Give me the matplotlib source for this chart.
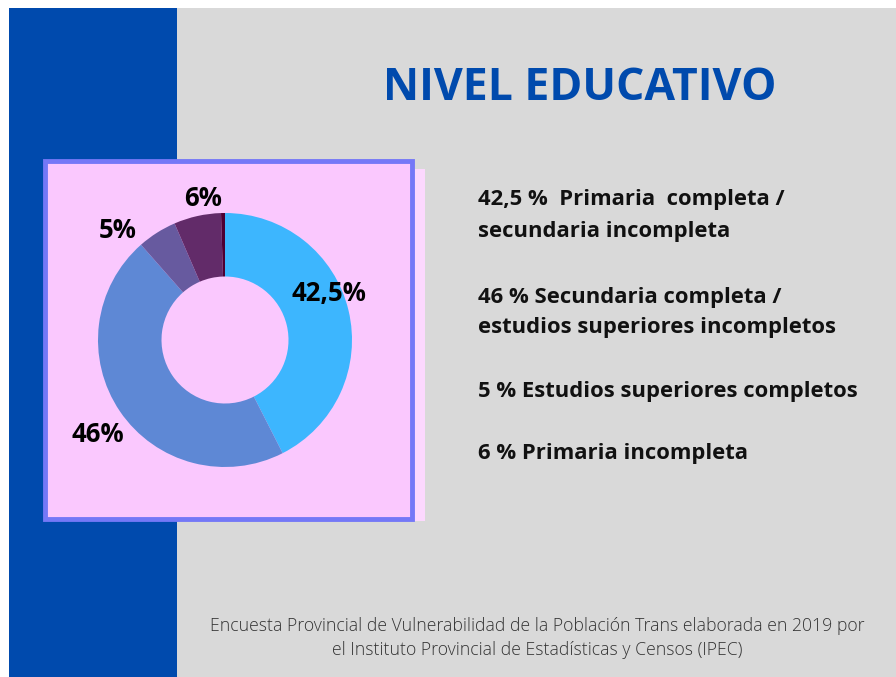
import matplotlib
matplotlib.use("Agg")
import matplotlib.pyplot as plt
from matplotlib.patches import Rectangle

categories = ["Primaria completa / secundaria incompleta",
              "Secundaria completa / estudios superiores incompletos",
              "Estudios superiores completos",
              "Primaria incompleta",
              "Otros"]
values = [42.5, 46, 5, 6, 0.5]
pct_labels = ["42,5%", "46%", "5%", "6%", ""]
colors = ["#3DB6FE", "#5E88D5", "#675A9F", "#622B69", "#4D0033"]

legend_lines = [
    "42,5 %  Primaria  completa /",
    "secundaria incompleta",
    "46 % Secundaria completa /",
    "estudios superiores incompletos",
    "5 % Estudios superiores completos",
    "6 % Primaria incompleta",
]
title = "NIVEL EDUCATIVO"
footer = ("Encuesta Provincial de Vulnerabilidad de la Población Trans elaborada en 2019 por\n"
          "el Instituto Provincial de Estadísticas y Censos (IPEC)")

W, H = 896, 677
fig = plt.figure(figsize=(W / 100, H / 100), dpi=100)
fig.patch.set_facecolor("white")

bg = fig.add_axes([0, 0, 1, 1])
bg.set_xlim(0, W)
bg.set_ylim(H, 0)
bg.axis("off")

bg.add_patch(Rectangle((9, 8), W - 9, H - 8, color="#D9D9D9", lw=0))
bg.add_patch(Rectangle((9, 8), 168, H - 8, color="#004AAD", lw=0))
# shadow box
bg.add_patch(Rectangle((60, 169), 365, 352, color="#FCD8FE", lw=0))
# main box
bg.add_patch(Rectangle((45, 161), 367, 358, facecolor="#FAC8FE",
                       edgecolor="#7478F7", lw=3.5))

bg.text(580, 88, title, color="#004AAD", fontsize=32, fontweight="bold",
        family="Open Sans", ha="center", va="center")

ys = [200, 232, 297, 328, 391, 454]
for y, t in zip(ys, legend_lines):
    bg.text(478, y, t, fontsize=15.8, fontweight="bold", family="Open Sans",
            color="#111111", ha="left", va="center")

bg.text(537, 638, footer, fontsize=12.7, family="Open Sans", color="#333333",
        ha="center", va="center", linespacing=1.45, fontweight="light")

# donut
cx, cy, r = 225, 340, 127
pax = fig.add_axes([(cx - r) / W, (H - cy - r) / H, 2 * r / W, 2 * r / H])
pax.pie(values, colors=colors, startangle=90, counterclock=False,
        wedgeprops=dict(width=0.5, linewidth=0))
pax.set_xlim(-1, 1)
pax.set_ylim(-1, 1)
pax.set_aspect("equal")
pax.axis("off")

label_pos = [(329, 293), (98, 435), (118, 230), (203, 198)]
for (x, y), t in zip(label_pos, pct_labels):
    fig.text(x / W, 1 - y / H, t, fontsize=18.5, fontweight="bold",
             family="Open Sans", color="black", ha="center", va="center",
             zorder=10)

fig.savefig("out.png", dpi=100, facecolor="white")
